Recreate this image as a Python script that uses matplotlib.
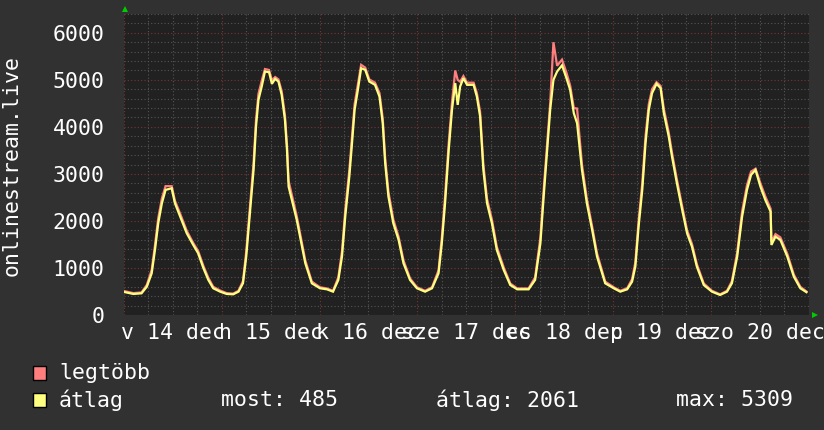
import matplotlib
matplotlib.use("Agg")
import matplotlib.pyplot as plt
from matplotlib.patches import Rectangle

# ---------------- data ----------------
hours = [0, 2.3, 4.3, 5.6, 6.8, 7.6, 8.4, 9.3, 10.2, 11.7,
         12.5, 13.8, 15.4, 17.0, 18.2, 19.5, 20.7, 21.9, 23.6, 25.2,
         26.8, 28.1, 29.2, 30.0, 30.9, 31.8, 32.4, 33.0, 33.8, 34.6,
         35.6, 36.3, 37.1, 37.9, 38.7, 39.5, 40.0, 40.4, 41.6, 42.4,
         43.2, 44.5, 46.1, 48.1, 49.8, 51.3, 52.6, 53.5, 54.3, 55.3,
         55.9, 56.6, 57.4, 58.2, 59.2, 60.2, 61.6, 62.7, 63.5, 64.1,
         64.9, 66.1, 67.4, 68.6, 70.2, 71.9, 73.9, 75.6, 77.2, 78.0,
         78.8, 79.7, 80.5, 81.3, 81.9, 82.5, 83.3, 84.2, 85.8, 86.6,
         87.4, 88.2, 89.1, 90.3, 91.5, 93.2, 94.8, 96.5, 99.3, 100.9,
         102.2, 103.0, 104.0, 104.6, 105.4, 106.3, 107.5, 108.6, 109.5, 110.4,
         111.2, 112.4, 113.6, 114.9, 116.1, 118.1, 120.2, 121.8, 123.5, 124.7,
         125.5, 126.3, 127.2, 128.0, 128.8, 129.6, 130.7, 131.7, 132.5, 133.7,
         134.5, 135.7, 137.0, 138.2, 139.4, 140.6, 142.3, 144.3, 146.3, 148.0,
         149.2, 150.5, 151.7, 152.9, 153.9, 155.0, 156.2, 157.4, 158.7, 158.9,
         159.9, 161.1, 162.8, 164.4, 166.0, 167.5]

atlag = [490, 447, 461, 602, 887, 1383, 1950, 2376, 2660, 2695,
         2376, 2092, 1738, 1489, 1312, 993, 745, 568, 496, 447,
         440, 496, 674, 1241, 2163, 3085, 4007, 4574, 4858, 5177,
         5163, 4915, 5021, 4964, 4681, 4149, 3511, 2730, 2300, 2021,
         1666, 1099, 674, 568, 546, 496, 745, 1241, 2092, 2943,
         3582, 4362, 4787, 5248, 5213, 4964, 4894, 4645, 4078, 3227,
         2517, 1950, 1596, 1099, 745, 568, 496, 568, 887, 1525,
         2376, 3511, 4362, 4929, 4468, 4858, 5035, 4894, 4894, 4645,
         4220, 3085, 2376, 1950, 1383, 957, 638, 546, 546, 745,
         1525, 2517, 3653, 4362, 5000, 5177, 5309, 5035, 4787, 4291,
         4078, 3085, 2376, 1809, 1241, 674, 568, 496, 546, 709,
         1028, 1879, 2660, 3653, 4362, 4716, 4915, 4823, 4291, 3794,
         3368, 2801, 2234, 1738, 1453, 1028, 638, 496, 426, 496,
         674, 1241, 2092, 2660, 2979, 3085, 2730, 2447, 2198, 1489,
         1666, 1596, 1241, 815, 568, 485]

legtobb = [510, 465, 480, 640, 960, 1480, 2060, 2480, 2740, 2740,
           2430, 2150, 1790, 1530, 1360, 1040, 790, 600, 520, 465,
           455, 515, 720, 1350, 2300, 3230, 4150, 4700, 4980, 5230,
           5210, 4990, 5060, 5010, 4760, 4250, 3620, 2850, 2400, 2100,
           1740, 1160, 710, 590, 565, 515, 800, 1350, 2230, 3080,
           3720, 4480, 4900, 5320, 5260, 5010, 4940, 4720, 4180, 3340,
           2620, 2030, 1660, 1160, 780, 590, 515, 590, 950, 1640,
           2520, 3660, 4520, 5199, 5000, 4960, 5080, 4940, 4940, 4720,
           4320, 3200, 2470, 2030, 1450, 1010, 670, 565, 565, 800,
           1650, 2660, 3800, 4500, 5800, 5300, 5430, 5150, 4880, 4400,
           4390, 3200, 2470, 1880, 1310, 710, 590, 515, 570, 760,
           1120, 2000, 2800, 3800, 4480, 4800, 4950, 4870, 4380, 3880,
           3450, 2880, 2310, 1800, 1510, 1080, 670, 515, 440, 515,
           720, 1330, 2200, 2760, 3050, 3110, 2800, 2520, 2260, 1560,
           1720, 1650, 1300, 860, 600, 500]

day_labels = ["v 14 dec", "h 15 dec", "k 16 dec", "sze 17 dec",
              "cs 18 dec", "p 19 dec", "szo 20 dec"]
y_ticks = [0, 1000, 2000, 3000, 4000, 5000, 6000]
y_label = "onlinestream.live"
legend_names = ["legtöbb", "átlag"]
stats_text = ["most: 485", "átlag: 2061", "max: 5309"]

# ---------------- style ----------------
FIG_BG = "#313131"
AX_BG = "#212121"
RED = "#FF7F7F"
YEL = "#FFFF80"
MONO = "DejaVu Sans Mono"
FS = 15.5

W, H = 824, 430
fig = plt.figure(figsize=(W / 100, H / 100), dpi=100, facecolor=FIG_BG)
L, R, T, B = 124, 808.5, 14, 315
ax = fig.add_axes([L / W, 1 - B / H, (R - L) / W, (B - T) / H])
ax.set_facecolor(AX_BG)

ax.set_xlim(0, 168)
ax.set_ylim(0, 6400)

# grid
ax.set_xticks([d * 24 for d in range(8)])
ax.set_xticks([h for h in range(0, 169, 6) if h % 24 != 0], minor=True)
ax.set_yticks(y_ticks)
ax.set_yticks([v for v in range(200, 6401, 200) if v % 1000 != 0], minor=True)
ax.grid(which="minor", color="#555555", linestyle=(0, (1, 2)), linewidth=0.8)
ax.grid(which="major", color="#7a3434", linestyle=(0, (1, 2)), linewidth=0.8)
ax.set_axisbelow(True)

ax.tick_params(which="both", length=0)
ax.set_xticklabels([])
ax.set_yticklabels([str(v) for v in y_ticks], fontfamily=MONO,
                   fontsize=FS, color="white")
ax.tick_params(axis="y", pad=14)
for s in ax.spines.values():
    s.set_visible(False)

# lines
ax.plot(hours, legtobb, color=RED, linewidth=1.6, solid_joinstyle="miter")
ax.plot(hours, atlag, color=YEL, linewidth=1.6, solid_joinstyle="miter")

# x labels centered at noon
for i, lab in enumerate(day_labels):
    ax.text(i * 24 + 12, -0.025, lab, transform=ax.get_xaxis_transform(),
            ha="center", va="top", fontfamily=MONO, fontsize=FS,
            color="white")

# arrows
ax.plot([0.0015], [1.015], marker="^", color="#00CC00", markersize=5,
        transform=ax.transAxes, clip_on=False, markeredgewidth=0)
ax.plot([1.009], [0.0], marker=">", color="#00CC00", markersize=5,
        transform=ax.transAxes, clip_on=False, markeredgewidth=0)

# y label
fig.text(12 / W, 1 - 165 / H, y_label, rotation=90, ha="center", va="center",
         fontfamily=MONO, fontsize=FS, color="white")

# legend
for k, (col, yc) in enumerate([(RED, 373), (YEL, 400)]):
    fig.patches.append(Rectangle((33 / W, 1 - (yc + 7) / H), 13 / W, 14 / H,
                                 transform=fig.transFigure,
                                 facecolor=col, edgecolor="black",
                                 linewidth=1))
    fig.text(59 / W, 1 - yc / H, legend_names[k], ha="left", va="center",
             fontfamily=MONO, fontsize=FS, color="white")
for xs, txt in zip([221, 436, 676], stats_text):
    fig.text(xs / W, 1 - 400 / H, txt, ha="left", va="center",
             fontfamily=MONO, fontsize=FS, color="white")

fig.savefig("out.png", dpi=100, facecolor=FIG_BG)
